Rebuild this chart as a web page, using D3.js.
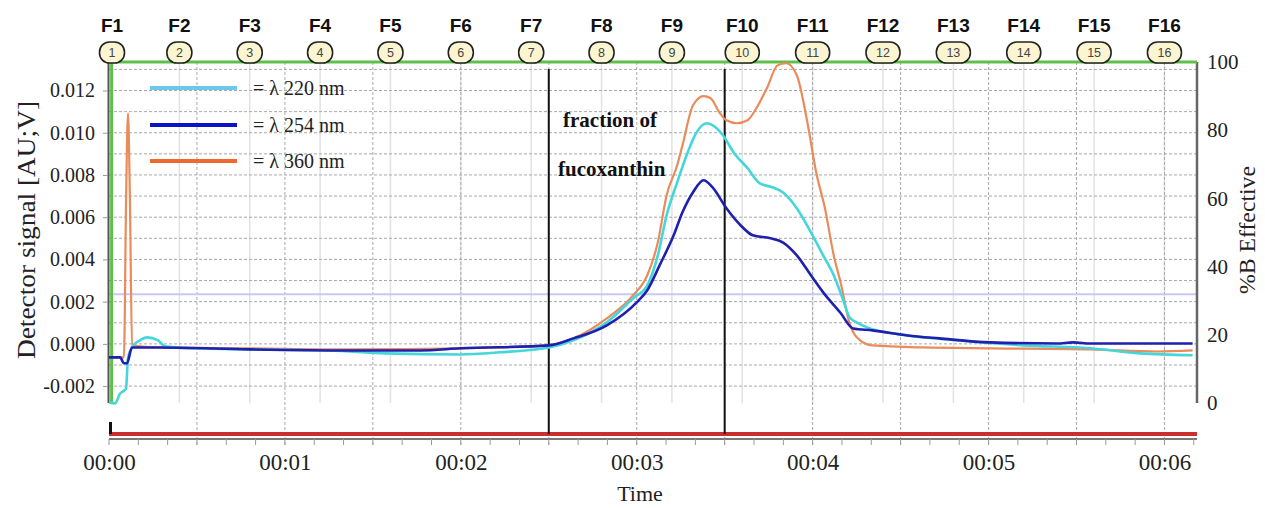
<!DOCTYPE html>
<html><head><meta charset="utf-8">
<script src="https://cdn.jsdelivr.net/npm/d3@7"></script>
<style>body{margin:0;background:#fff;} svg{display:block;}</style>
</head><body><svg id="c" width="1265" height="508"></svg>
<script>
// ---------- data ----------
const time220 = [0,0.034,0.063,0.085,0.097,0.108,0.131,0.176,0.216,0.279,0.318,0.489,0.80,1.256,1.569,1.995,2.22,2.5,2.64,2.83,2.98,3.06,3.12,3.17,3.23,3.29,3.34,3.40,3.43,3.49,3.55,3.63,3.70,3.77,3.83,3.91,3.99,4.06,4.12,4.17,4.21,4.25,4.31,4.54,4.82,5.20,5.58,5.86,6.16];
const sig220  = [-0.00277,-0.00282,-0.00235,-0.00222,-0.00211,-0.00064,-0.00017,0.00017,0.00031,0.00017,-0.00012,-0.00021,-0.00026,-0.00031,-0.00045,-0.0005,-0.0004,-0.00017,0.00017,0.00102,0.00216,0.00277,0.00419,0.00609,0.00765,0.00908,0.01002,0.01045,0.01036,0.00988,0.00908,0.00832,0.00760,0.00742,0.00718,0.00642,0.00528,0.00419,0.00325,0.00216,0.00126,0.00102,0.00078,0.0004,0.00017,-0.00007,-0.00021,-0.00045,-0.00054];

const time254 = [0,0.063,0.085,0.102,0.131,0.29,0.80,1.37,1.77,2.0,2.5,2.64,2.83,3.0,3.06,3.13,3.21,3.26,3.32,3.38,3.43,3.51,3.59,3.66,3.76,3.83,3.91,3.99,4.06,4.16,4.23,4.34,4.54,4.72,5.01,5.39,5.48,5.58,6.16];
const sig254  = [-0.00064,-0.00064,-0.00092,-0.00092,-0.00017,-0.00017,-0.00026,-0.00031,-0.00031,-0.00021,-0.00007,0.00026,0.00088,0.00197,0.00254,0.00372,0.00514,0.00623,0.00718,0.00775,0.00742,0.00642,0.00562,0.00514,0.005,0.00481,0.00419,0.00325,0.00244,0.00145,0.00073,0.00064,0.0004,0.00026,0.00007,0.00002,0.00007,0.00002,0.00002];

const time360 = [0,0.085,0.097,0.108,0.119,0.131,0.29,0.80,1.37,2.0,2.5,2.64,2.83,2.98,3.06,3.12,3.17,3.23,3.26,3.32,3.38,3.42,3.47,3.51,3.57,3.63,3.68,3.74,3.80,3.85,3.91,3.97,4.02,4.07,4.12,4.16,4.21,4.27,4.34,4.63,5.01,5.58,5.96,6.16];
const sig360  = [-0.00064,-0.00064,0.0068,0.01092,0.0068,-0.00007,-0.00017,-0.00021,-0.00026,-0.00021,-0.00007,0.00026,0.00121,0.0023,0.00325,0.00481,0.00704,0.00846,0.0094,0.0113,0.01173,0.01163,0.01097,0.01059,0.01045,0.01059,0.01116,0.01211,0.01319,0.01329,0.01272,0.0105,0.00813,0.00642,0.00419,0.00287,0.00097,0.00017,-0.00007,-0.00017,-0.00021,-0.00026,-0.00036,-0.00031];

const gradientTime = [0.015,0.015,6.185];
const gradientB    = [0,100,100];

const fractionNames  = ["F1","F2","F3","F4","F5","F6","F7","F8","F9","F10","F11","F12","F13","F14","F15","F16"];
const fractionNumbers = ["1","2","3","4","5","6","7","8","9","10","11","12","13","14","15","16"];
const fractionStarts = [0,0.4,0.8,1.2,1.6,2.0,2.4,2.8,3.2,3.6,4.0,4.4,4.8,5.2,5.6,6.0];

const leftTicks  = [-0.002,0,0.002,0.004,0.006,0.008,0.010,0.012];
const rightTicks = [0,20,40,60,80,100];
const timeTicks  = [0,1,2,3,4,5,6];
const timeLabels = ["00:00","00:01","00:02","00:03","00:04","00:05","00:06"];
const cutTimes   = [2.5,3.5];
const thresholdSignal = 0.00235;
const legendLabels = ["= \u03BB 220 nm","= \u03BB 254 nm","= \u03BB 360 nm"];
const legendColors = ["#6cc6ee","#0b12c8","#ee6a2c"];
const lineColors   = ["#45d6dc","#2020ae","#e98b5a"];
const annotation   = ["fraction of","fucoxanthin"];

// ---------- scales ----------
const svg = d3.select("#c");
const x  = d3.scaleLinear().domain([0,6.185]).range([109,1197]);
const y  = d3.scaleLinear().domain([-0.0028,0.01335]).range([403,62]);
const yR = d3.scaleLinear().domain([0,100]).range([403,62]);
const lane = d3.scaleLinear().domain([0,1]).range([434,422]);
const serif = "'Liberation Serif','Times New Roman',serif";
const sans  = "'Liberation Sans',Arial,sans-serif";

// ---------- grid ----------
const g = svg.append("g");
g.selectAll(".fl").data(fractionStarts.slice(1)).enter().append("line")
  .attr("x1",d=>x(d)).attr("x2",d=>x(d)).attr("y1",yR(100)).attr("y2",yR(0))
  .attr("stroke","#e2e2e2").attr("stroke-width",1.5);
g.selectAll(".hg").data(d3.range(-2,14).map(i=>i*0.001)).enter().append("line")
  .attr("x1",x(0)).attr("x2",x(6.185)).attr("y1",d=>y(d)).attr("y2",d=>y(d))
  .attr("stroke","#a9a9a9").attr("stroke-width",1).attr("stroke-dasharray","3,2");
g.selectAll(".vg").data(d3.range(1,13).map(i=>i*0.5)).enter().append("line")
  .attr("x1",d=>x(d)).attr("x2",d=>x(d)).attr("y1",yR(100)).attr("y2",447)
  .attr("stroke","#a9a9a9").attr("stroke-width",1).attr("stroke-dasharray","3,2");
g.append("line").attr("x1",x(0)).attr("x2",x(6.185))
  .attr("y1",y(thresholdSignal)).attr("y2",y(thresholdSignal))
  .attr("stroke","#c8c8f2").attr("stroke-width",2);

// ---------- axes ----------
svg.append("line").attr("x1",x(0)-0.5).attr("x2",x(0)-0.5).attr("y1",yR(100)).attr("y2",yR(0))
  .attr("stroke","#555").attr("stroke-width",2);
const la = svg.append("g").attr("transform",`translate(${x(0)-1},0)`)
  .call(d3.axisLeft(y).tickValues(leftTicks).tickFormat(d=>d.toFixed(3)).tickSizeInner(5).tickSizeOuter(0).tickPadding(8));
la.select(".domain").remove();
la.selectAll("line").attr("stroke","#999");
la.selectAll("text").attr("font-family",serif).attr("font-size",20).attr("fill","#222");

svg.append("line").attr("x1",x(6.185)).attr("x2",x(6.185)).attr("y1",yR(100)).attr("y2",yR(0))
  .attr("stroke","#666").attr("stroke-width",2.5);
const ra = svg.append("g").attr("transform",`translate(${x(6.185)},0)`)
  .call(d3.axisRight(yR).tickValues(rightTicks).tickSize(0).tickPadding(10));
ra.select(".domain").remove();
ra.selectAll("text").attr("font-family",serif).attr("font-size",21).attr("fill","#222");

svg.append("path").datum([[0,0],[6.185,0]])
  .attr("d",d3.line().x(d=>x(d[0])).y(d=>lane(d[1])))
  .attr("stroke","#cc2e2e").attr("stroke-width",4).attr("fill","none");
svg.append("path").datum([[0,1],[0,0]])
  .attr("d",d3.line().x(d=>x(d[0])+1.5).y(d=>lane(d[1])))
  .attr("stroke","#111").attr("stroke-width",3).attr("fill","none");

svg.append("line").attr("x1",x(0)).attr("x2",x(6.185)).attr("y1",439).attr("y2",439)
  .attr("stroke","#777").attr("stroke-width",2);
svg.selectAll(".mt").data(d3.range(0,38).map(i=>i/6)).enter().append("line")
  .attr("x1",d=>x(d)).attr("x2",d=>x(d)).attr("y1",439).attr("y2",445)
  .attr("stroke","#999").attr("stroke-width",1);
const xa = svg.append("g").attr("transform","translate(0,439)")
  .call(d3.axisBottom(x).tickValues(timeTicks).tickFormat((d,i)=>timeLabels[i]).tickSize(0).tickPadding(15));
xa.select(".domain").remove();
xa.selectAll("text").attr("font-family",serif).attr("font-size",23).attr("fill","#222");

svg.append("text").attr("transform","translate(26,230) rotate(-90)")
  .attr("text-anchor","middle").attr("dominant-baseline","central")
  .attr("font-family",serif).attr("font-size",25).attr("fill","#222")
  .attr("textLength",258).attr("lengthAdjust","spacingAndGlyphs")
  .text("Detector signal [AU;V]");
svg.append("text").attr("transform","translate(1247,230) rotate(-90)")
  .attr("text-anchor","middle").attr("dominant-baseline","central")
  .attr("font-family",serif).attr("font-size",23).attr("fill","#222")
  .attr("textLength",128).attr("lengthAdjust","spacingAndGlyphs")
  .text("%B Effective");
svg.append("text").attr("x",640).attr("y",501).attr("text-anchor","middle")
  .attr("font-family",serif).attr("font-size",22).attr("fill","#222").text("Time");

// ---------- gradient (%B) ----------
svg.append("path").datum(gradientTime.map((t,i)=>[t,gradientB[i]]))
  .attr("d",d3.line().x(d=>x(d[0])).y(d=>yR(d[1])))
  .attr("stroke","#5fbf4a").attr("stroke-width",3).attr("fill","none");

// ---------- cut lines ----------
svg.selectAll(".cut").data(cutTimes).enter().append("line")
  .attr("x1",d=>x(d)).attr("x2",d=>x(d)).attr("y1",69).attr("y2",lane(0))
  .attr("stroke","#111").attr("stroke-width",2);

// ---------- series ----------
const series = [[time220,sig220],[time254,sig254],[time360,sig360]];
const line = d3.line().x(d=>x(d[0])).y(d=>y(d[1])).curve(d3.curveMonotoneX);
[2,0,1].forEach(k=>{
  const [ts,vs] = series[k];
  svg.append("path").datum(ts.map((t,i)=>[t,vs[i]]))
    .attr("d",line).attr("fill","none").attr("stroke",lineColors[k])
    .attr("stroke-width",k===2?2.2:2.6).attr("stroke-linejoin","round");
});

// ---------- annotation ----------
svg.selectAll(".ann").data(annotation).enter().append("text")
  .attr("x",(d,i)=>i===0?563:558).attr("y",(d,i)=>i===0?127:176)
  .attr("font-family",serif).attr("font-weight","bold").attr("font-size",21).attr("fill","#111")
  .text(d=>d);

// ---------- legend ----------
legendLabels.forEach((lab,i)=>{
  const ly = [88,125,161][i];
  svg.append("line").attr("x1",150).attr("x2",237).attr("y1",ly).attr("y2",ly)
    .attr("stroke",legendColors[i]).attr("stroke-width",4);
  svg.append("text").attr("x",253).attr("y",ly).attr("dominant-baseline","central")
    .attr("font-family",serif).attr("font-size",20).attr("fill","#222").text(lab);
});

// ---------- fraction markers ----------
const fx = t => Math.max(x(t), x(0)+3);
const fr = svg.selectAll(".fr").data(fractionStarts).enter().append("g")
  .attr("transform",d=>`translate(${fx(d)},0)`);
fr.append("text").attr("y",32).attr("text-anchor","middle")
  .attr("font-family",sans).attr("font-weight","bold").attr("font-size",19).attr("fill","#111")
  .text((d,i)=>fractionNames[i]);
fr.append("rect")
  .attr("x",(d,i)=>fractionNumbers[i].length>1?-17:-12.5).attr("y",42)
  .attr("width",(d,i)=>fractionNumbers[i].length>1?34:25).attr("height",21).attr("rx",10)
  .attr("fill","#fbf5d2").attr("stroke","#222").attr("stroke-width",1.6);
fr.append("text").attr("y",52.5).attr("text-anchor","middle").attr("dominant-baseline","central")
  .attr("font-family",sans).attr("font-size",12.5).attr("fill","#444")
  .text((d,i)=>fractionNumbers[i]);
</script></body></html>
